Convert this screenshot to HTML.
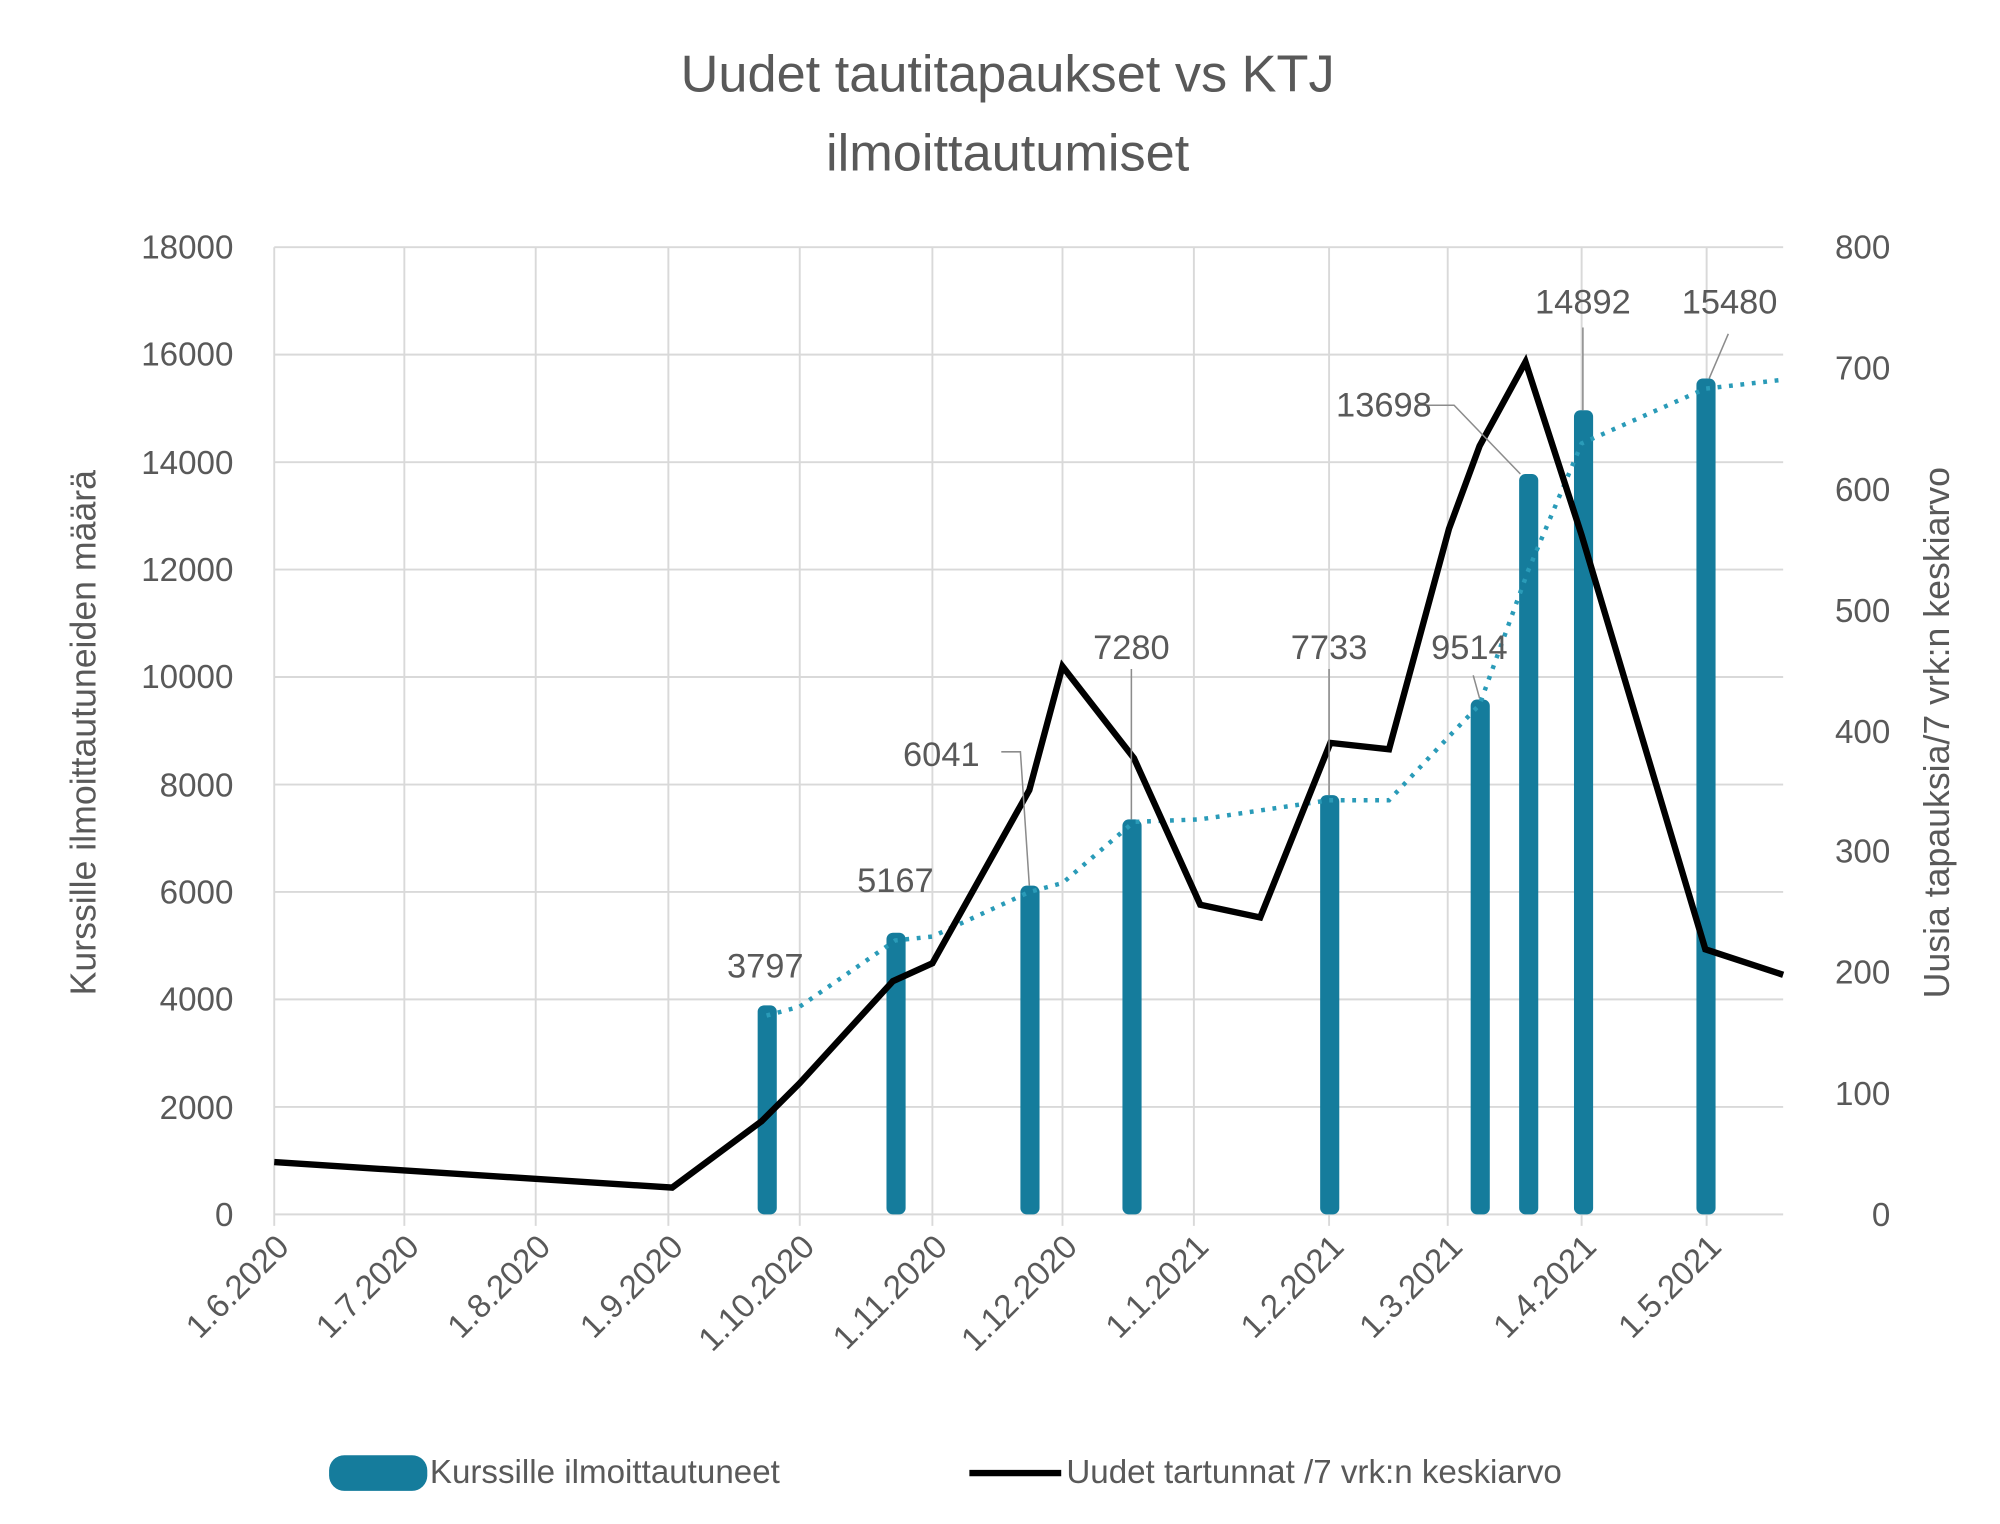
<!DOCTYPE html>
<html><head><meta charset="utf-8"><style>
html,body{margin:0;padding:0;background:#fff}
svg{display:block}
text{font-family:"Liberation Sans","DejaVu Sans",sans-serif;fill:#595959}
</style></head><body>
<svg width="2000" height="1524" viewBox="0 0 1568 1196" preserveAspectRatio="none" xmlns="http://www.w3.org/2000/svg">
<rect width="1568" height="1196" fill="#fff"/>
<text x="790" y="72" font-size="41" text-anchor="middle">Uudet tautitapaukset vs KTJ</text>
<text x="790" y="134" font-size="41" text-anchor="middle">ilmoittautumiset</text>
<g stroke="#d9d9d9" stroke-width="1.5">
<line x1="215" x2="1398" y1="194" y2="194"/><line x1="215" x2="1398" y1="278.3" y2="278.3"/>
<line x1="215" x2="1398" y1="362.7" y2="362.7"/><line x1="215" x2="1398" y1="447" y2="447"/>
<line x1="215" x2="1398" y1="531.3" y2="531.3"/><line x1="215" x2="1398" y1="615.7" y2="615.7"/>
<line x1="215" x2="1398" y1="700" y2="700"/><line x1="215" x2="1398" y1="784.3" y2="784.3"/>
<line x1="215" x2="1398" y1="868.7" y2="868.7"/><line x1="215" x2="1398" y1="953" y2="953"/>
<line x1="215" x2="215" y1="194" y2="962"/><line x1="317" x2="317" y1="194" y2="962"/>
<line x1="420" x2="420" y1="194" y2="962"/><line x1="524" x2="524" y1="194" y2="962"/>
<line x1="627" x2="627" y1="194" y2="962"/><line x1="731" x2="731" y1="194" y2="962"/>
<line x1="833" x2="833" y1="194" y2="962"/><line x1="936" x2="936" y1="194" y2="962"/>
<line x1="1042" x2="1042" y1="194" y2="962"/><line x1="1135" x2="1135" y1="194" y2="962"/>
<line x1="1240" x2="1240" y1="194" y2="962"/><line x1="1338" x2="1338" y1="194" y2="962"/>
</g>
<g font-size="26" text-anchor="end">
<text x="183" y="203">18000</text><text x="183" y="287">16000</text><text x="183" y="372">14000</text>
<text x="183" y="456">12000</text><text x="183" y="540">10000</text><text x="183" y="625">8000</text>
<text x="183" y="709">6000</text><text x="183" y="793">4000</text><text x="183" y="878">2000</text>
<text x="183" y="962">0</text>
</g>
<g font-size="26" text-anchor="end">
<text x="1482" y="203">800</text><text x="1482" y="298">700</text><text x="1482" y="393">600</text>
<text x="1482" y="488">500</text><text x="1482" y="583">400</text><text x="1482" y="677">300</text>
<text x="1482" y="772">200</text><text x="1482" y="867">100</text><text x="1482" y="962">0</text>
</g>
<text transform="translate(75,575) rotate(-90)" font-size="28" text-anchor="middle">Kurssille ilmoittautuneiden määrä</text>
<text transform="translate(1528,575) rotate(-90)" font-size="28" text-anchor="middle">Uusia tapauksia/7 vrk:n keskiarvo</text>
<g font-size="26" text-anchor="end">
<text transform="translate(228,980) rotate(-45)">1.6.2020</text>
<text transform="translate(330,980) rotate(-45)">1.7.2020</text>
<text transform="translate(433,980) rotate(-45)">1.8.2020</text>
<text transform="translate(537,980) rotate(-45)">1.9.2020</text>
<text transform="translate(640,980) rotate(-45)">1.10.2020</text>
<text transform="translate(744,980) rotate(-45)">1.11.2020</text>
<text transform="translate(846,980) rotate(-45)">1.12.2020</text>
<text transform="translate(949,980) rotate(-45)">1.1.2021</text>
<text transform="translate(1055,980) rotate(-45)">1.2.2021</text>
<text transform="translate(1148,980) rotate(-45)">1.3.2021</text>
<text transform="translate(1253,980) rotate(-45)">1.4.2021</text>
<text transform="translate(1351,980) rotate(-45)">1.5.2021</text>
</g>
<g fill="#157c9c">
<rect x="594" y="789" width="15" height="164" rx="5"/>
<rect x="695" y="732" width="15" height="221" rx="5"/>
<rect x="800" y="695" width="15" height="258" rx="5"/>
<rect x="880" y="643" width="15" height="310" rx="5"/>
<rect x="1035" y="624" width="15" height="329" rx="5"/>
<rect x="1153" y="549" width="15" height="404" rx="5"/>
<rect x="1191" y="372" width="15" height="581" rx="5"/>
<rect x="1234" y="322" width="15" height="631" rx="5"/>
<rect x="1330" y="297" width="15" height="656" rx="5"/>
</g>
<polyline fill="none" stroke="#2a9bb8" stroke-width="3.5" stroke-dasharray="3 6" points="601,797 627,790 702,738 731,735 807,700 833,693 889,645 941,643 1042,628 1089,628 1136,578 1160,553 1198,448 1240,348 1337,305 1398,298"/>
<polyline fill="none" stroke="#000" stroke-width="5" stroke-linejoin="miter" points="215,912 527,932 597,880 627,850 700,770 731,756 807,620 833,523 889,595 941,710 988,720 1043,583 1089,588 1136,415 1160,350 1196,284 1240,420 1337,745 1398,765"/>
<g stroke="#8c8c8c" stroke-width="1.2" fill="none">
<polyline points="785,590 800,590 807,695"/>
<line x1="887" y1="525" x2="887" y2="643"/>
<line x1="1042" y1="525" x2="1042" y2="624"/>
<line x1="1155" y1="530" x2="1160" y2="548"/>
<polyline points="1113,318 1140,318 1192,372"/>
<line x1="1241" y1="257" x2="1241" y2="322"/>
<line x1="1355" y1="262" x2="1340" y2="297"/>
</g>
<g font-size="27" text-anchor="middle">
<text x="600" y="767">3797</text><text x="702" y="700">5167</text><text x="738" y="601">6041</text>
<text x="887" y="517">7280</text><text x="1042" y="517">7733</text><text x="1152" y="517">9514</text>
<text x="1085" y="327">13698</text><text x="1241" y="246">14892</text><text x="1356" y="246">15480</text>
</g>
<rect x="258" y="1142" width="77" height="28" rx="12" fill="#157c9c"/>
<text x="337" y="1164" font-size="26">Kurssille ilmoittautuneet</text>
<line x1="760" y1="1156" x2="832" y2="1156" stroke="#000" stroke-width="5"/>
<text x="836" y="1164" font-size="26">Uudet tartunnat /7 vrk:n keskiarvo</text>
</svg>
</body></html>
